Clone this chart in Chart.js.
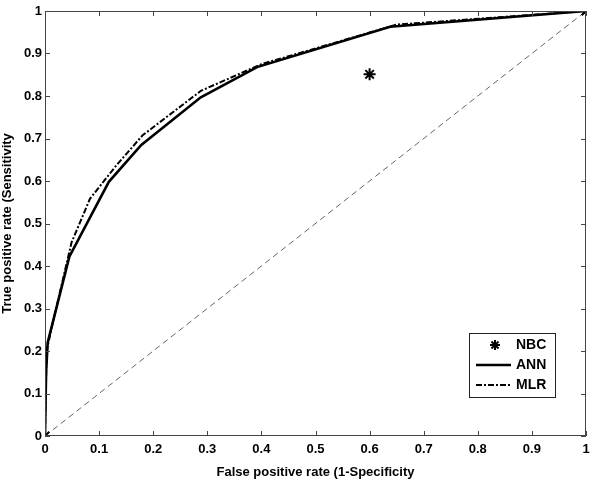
<!DOCTYPE html>
<html>
<head>
<meta charset="utf-8">
<script src="https://cdn.jsdelivr.net/npm/chart.js@4"></script>
<style>
html,body{margin:0;padding:0;background:#fff;}
#wrap{width:600px;height:480px;}
</style>
</head>
<body>
<div id="wrap"><canvas id="c" width="600" height="480"></canvas></div>
<script>
const tickValues = [0,0.1,0.2,0.3,0.4,0.5,0.6,0.7,0.8,0.9,1];
const nbcFpr = [0, 0.6, 1];
const nbcTpr = [0, 0.851, 1];
const annFpr = [0, 0.002, 0.005, 0.045, 0.118, 0.178, 0.288, 0.392, 0.638, 1];
const annTpr = [0, 0.15, 0.22, 0.422, 0.598, 0.685, 0.797, 0.868, 0.963, 1];
const mlrFpr = [0, 0.003, 0.015, 0.049, 0.083, 0.132, 0.18, 0.288, 0.4, 0.5, 0.65, 1];
const mlrTpr = [0, 0.2, 0.27, 0.455, 0.558, 0.637, 0.707, 0.812, 0.875, 0.912, 0.968, 1];
const refFpr = [0, 1];
const refTpr = [0, 1];
const labels = ['NBC', 'ANN', 'MLR'];

const toPts = (xs, ys) => xs.map((x, i) => ({x: x, y: ys[i]}));
const FONT = 'Liberation Sans, Arial, sans-serif';

const boxPlugin = {
  id: 'box',
  afterDraw(chart) {
    const {ctx, chartArea: a, scales} = chart;
    ctx.save();
    ctx.strokeStyle = '#444';
    ctx.lineWidth = 1;
    ctx.strokeRect(a.left + 0.5, a.top + 0.5, a.right - a.left - 1, a.bottom - a.top - 1);
    ctx.beginPath();
    tickValues.forEach(v => {
      const x = Math.round(scales.x.getPixelForValue(v)) + 0.5;
      ctx.moveTo(x, a.bottom); ctx.lineTo(x, a.bottom - 5);
      ctx.moveTo(x, a.top); ctx.lineTo(x, a.top + 5);
      const y = Math.round(scales.y.getPixelForValue(v)) + 0.5;
      ctx.moveTo(a.left, y); ctx.lineTo(a.left + 5, y);
      ctx.moveTo(a.right, y); ctx.lineTo(a.right - 5, y);
    });
    ctx.stroke();
    // legend
    const lx = 469, ly = 333, lw = 86, lh = 64;
    ctx.fillStyle = '#fff';
    ctx.fillRect(lx, ly, lw, lh);
    ctx.strokeStyle = '#222';
    ctx.strokeRect(lx + 0.5, ly + 0.5, lw, lh);
    ctx.font = 'bold 14px ' + FONT;
    ctx.fillStyle = '#000';
    ctx.textBaseline = 'middle';
    ctx.textAlign = 'left';
    const rows = [ly + 12, ly + 32, ly + 52];
    const ds = chart.data.datasets;
    ctx.save();
    ctx.strokeStyle = '#000'; ctx.lineWidth = 2;
    const sx = 495, sy = rows[0], r = 5;
    ctx.beginPath();
    for (let k = 0; k < 4; k++) {
      const ang = k * Math.PI / 4;
      ctx.moveTo(sx - r * Math.cos(ang), sy - r * Math.sin(ang));
      ctx.lineTo(sx + r * Math.cos(ang), sy + r * Math.sin(ang));
    }
    ctx.stroke();
    ctx.restore();
    ctx.fillText(ds[0].label, 516, rows[0]);
    ctx.save();
    ctx.strokeStyle = '#000'; ctx.lineWidth = 2.5;
    ctx.beginPath(); ctx.moveTo(476, rows[1]); ctx.lineTo(511, rows[1]); ctx.stroke();
    ctx.restore();
    ctx.fillText(ds[1].label, 516, rows[1]);
    ctx.save();
    ctx.strokeStyle = '#000'; ctx.lineWidth = 1.8; ctx.setLineDash([6, 2, 2, 2]);
    ctx.beginPath(); ctx.moveTo(476, rows[2]); ctx.lineTo(511, rows[2]); ctx.stroke();
    ctx.restore();
    ctx.fillText(ds[2].label, 516, rows[2]);
    ctx.restore();
  }
};

new Chart(document.getElementById('c'), {
  type: 'scatter',
  data: {
    datasets: [
      {label: labels[0], data: toPts(nbcFpr, nbcTpr), showLine: false, pointStyle: 'star',
       pointRadius: 6, borderColor: '#000', borderWidth: 2, backgroundColor: '#000', order: 0},
      {label: labels[1], data: toPts(annFpr, annTpr), showLine: true, pointRadius: 0,
       borderColor: '#000', borderWidth: 2.6, tension: 0, order: 1},
      {label: labels[2], data: toPts(mlrFpr, mlrTpr), showLine: true, pointRadius: 0,
       borderColor: '#000', borderWidth: 2, borderDash: [6, 2, 2, 2], tension: 0, order: 2},
      {label: 'ref', data: toPts(refFpr, refTpr), showLine: true, pointRadius: 0,
       borderColor: '#555', borderWidth: 0.9, borderDash: [6, 4], order: 3}
    ]
  },
  options: {
    responsive: false,
    animation: false,
    events: [],
    layout: {padding: {left: 0, right: 14, top: 11, bottom: 0}},
    plugins: {legend: {display: false}, tooltip: {enabled: false}},
    scales: {
      x: {
        type: 'linear', min: 0, max: 1,
        afterBuildTicks: s => { s.ticks = tickValues.map(v => ({value: v})); },
        afterFit: s => { s.height = 44; },
        ticks: {color: '#000', font: {family: FONT, size: 13, weight: 'bold'}, padding: 6,
                maxRotation: 0, autoSkip: false,
                callback: v => String(Math.round(v * 10) / 10)},
        grid: {display: false, drawTicks: false},
        border: {display: false},
        title: {display: true, text: 'False positive rate (1-Specificity', color: '#000',
                font: {family: FONT, size: 13, weight: 'bold'}, padding: {top: 1, bottom: 0}}
      },
      y: {
        type: 'linear', min: 0, max: 1,
        afterBuildTicks: s => { s.ticks = tickValues.map(v => ({value: v})); },
        afterFit: s => { s.width = 45; },
        ticks: {color: '#000', font: {family: FONT, size: 13, weight: 'bold'}, padding: 3,
                autoSkip: false,
                callback: v => String(Math.round(v * 10) / 10)},
        grid: {display: false, drawTicks: false},
        border: {display: false},
        title: {display: true, text: 'True positive rate (Sensitivity', color: '#000',
                font: {family: FONT, size: 13, weight: 'bold'}, padding: {top: 0, bottom: 0}}
      }
    }
  },
  plugins: [boxPlugin]
});
</script>
</body>
</html>
